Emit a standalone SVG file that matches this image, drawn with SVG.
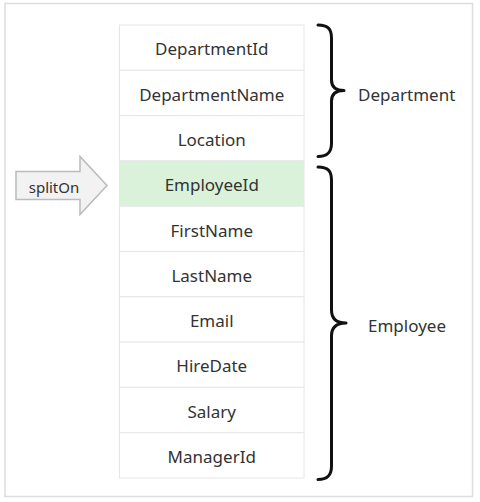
<svg xmlns="http://www.w3.org/2000/svg" width="480" height="502" viewBox="0 0 480 502">
<style>
.cell{fill:#ffffff;stroke:#e6e6e6;stroke-width:1}
.hl{fill:#d9f2d9;stroke:#e6e6e6;stroke-width:1}
.t{font-family:"Noto Sans","Open Sans",sans-serif;font-size:17px;fill:#333333;text-anchor:middle;dominant-baseline:central}
.lbl{font-family:"Noto Sans","Open Sans",sans-serif;font-size:17px;fill:#333333;dominant-baseline:central}
.brace{fill:none;stroke:#111111;stroke-width:3;stroke-linecap:round;stroke-linejoin:round}
</style>
<rect x="5" y="3.5" width="467.5" height="493" fill="#ffffff" stroke="#dddddd" stroke-width="1.5"/>
<g id="rows">
<g id="r1"><rect class="cell" x="119.5" y="25" width="184.5" height="45.3"/><text class="t" x="211.75" y="48.8">DepartmentId</text></g>
<g id="r2"><rect class="cell" x="119.5" y="70.3" width="184.5" height="45.3"/><text class="t" x="211.75" y="94.1">DepartmentName</text></g>
<g id="r3"><rect class="cell" x="119.5" y="115.6" width="184.5" height="45.3"/><text class="t" x="211.75" y="139.4">Location</text></g>
<g id="r4"><rect class="hl" x="119.5" y="160.9" width="184.5" height="45.3"/><text class="t" x="211.75" y="184.7">EmployeeId</text></g>
<g id="r5"><rect class="cell" x="119.5" y="206.2" width="184.5" height="45.3"/><text class="t" x="211.75" y="230">FirstName</text></g>
<g id="r6"><rect class="cell" x="119.5" y="251.5" width="184.5" height="45.3"/><text class="t" x="211.75" y="275.3">LastName</text></g>
<g id="r7"><rect class="cell" x="119.5" y="296.8" width="184.5" height="45.3"/><text class="t" x="211.75" y="320.6">Email</text></g>
<g id="r8"><rect class="cell" x="119.5" y="342.1" width="184.5" height="45.3"/><text class="t" x="211.75" y="365.9">HireDate</text></g>
<g id="r9"><rect class="cell" x="119.5" y="387.4" width="184.5" height="45.3"/><text class="t" x="211.75" y="411.2">Salary</text></g>
<g id="r10"><rect class="cell" x="119.5" y="432.7" width="184.5" height="45.3"/><text class="t" x="211.75" y="456.5">ManagerId</text></g>
</g>
<g id="splitOn">
<path d="M16 171.5 H80 V156.5 L107 185.5 L80 214.5 V199.5 H16 Z" fill="#f2f2f2" stroke="#bbbbbb" stroke-width="1.5"/>
<text class="t" x="54" y="186.5" style="font-size:15px">splitOn</text>
</g>
<g id="connectors">
<path class="brace" d="M318 25 C328 25 331.5 29 331.5 38 V80 C331.5 86 335 90.5 344 90.5 C335 90.5 331.5 95 331.5 101 V143 C331.5 152 328 156.5 318 156.5"/>
<path class="brace" d="M318 167 C328 167 331.5 171 331.5 180 V310 C331.5 317 335 323 346 323 C335 323 331.5 329 331.5 336 V466 C331.5 475 328 479.5 318 479.5"/>
</g>
<g id="dept-label"><text class="lbl" x="358" y="94">Department</text></g>
<g id="emp-label"><text class="lbl" x="368" y="325.5">Employee</text></g>
</svg>
